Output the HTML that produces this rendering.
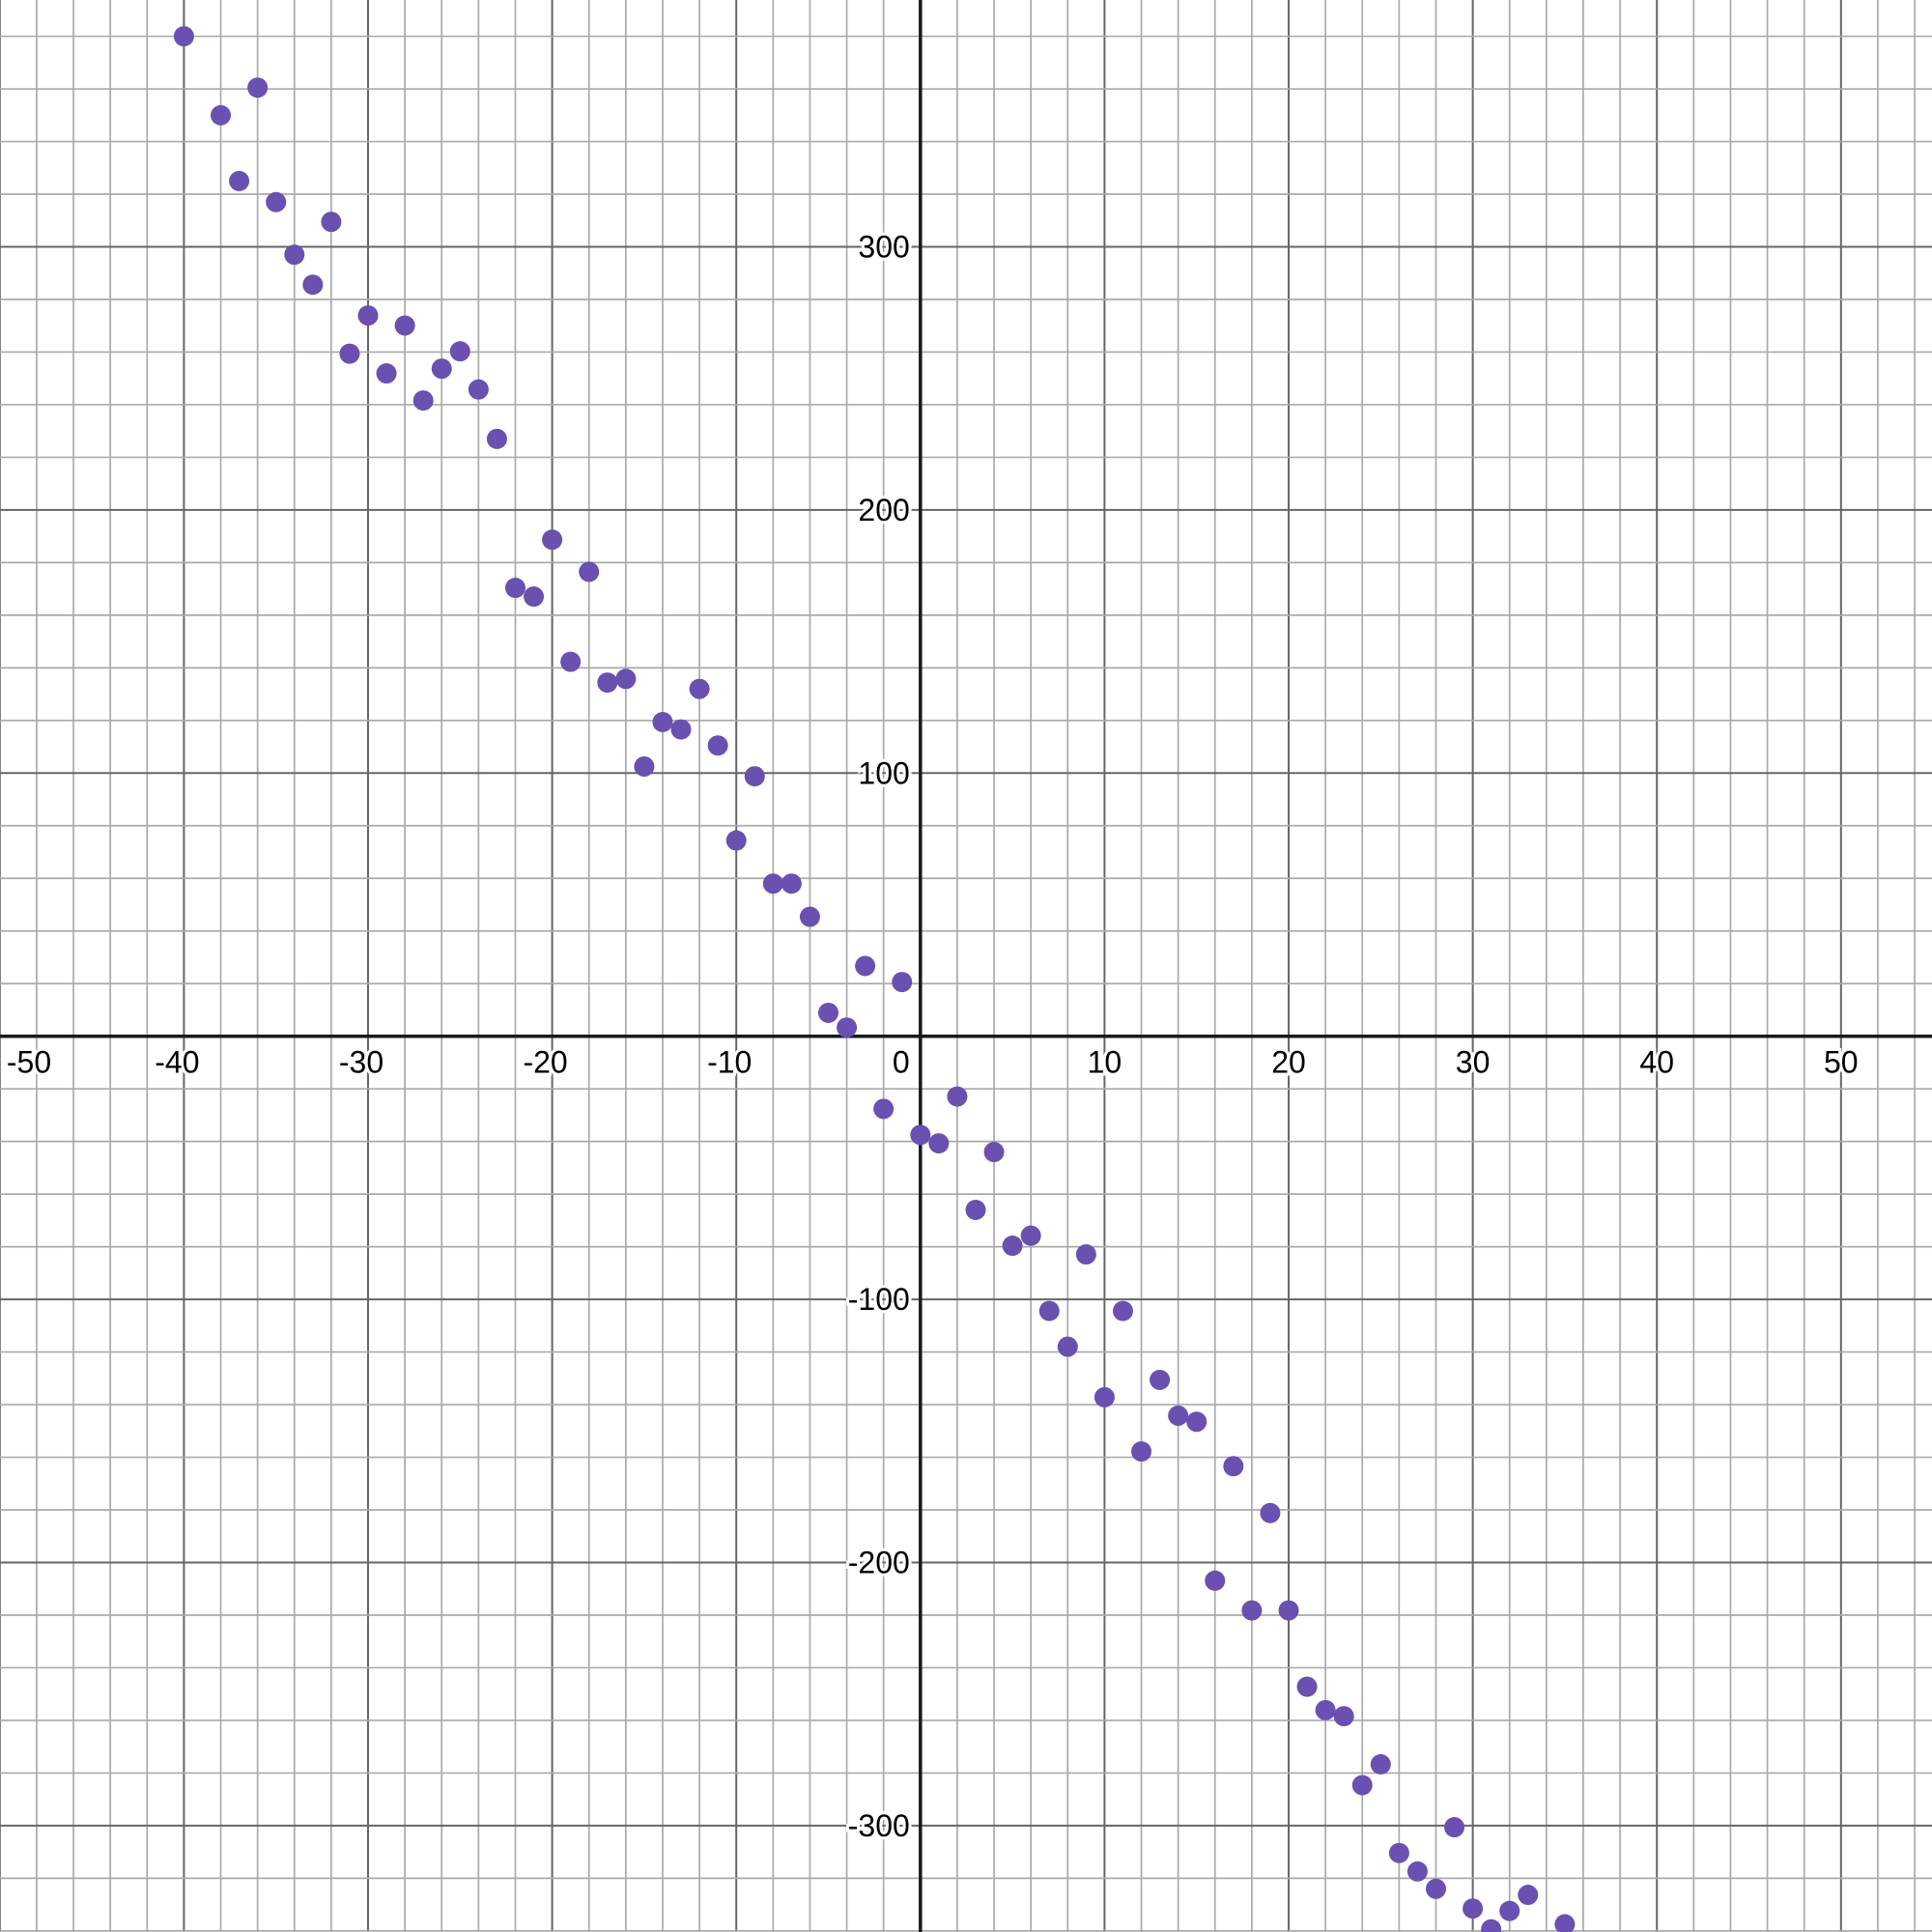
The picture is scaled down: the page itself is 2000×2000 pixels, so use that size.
<!DOCTYPE html>
<html><head><meta charset="utf-8"><style>
html,body{margin:0;padding:0;background:#fff}
svg{display:block}
text{font-family:"Liberation Sans",Arial,sans-serif;font-size:32px;fill:#000}
</style></head><body>
<svg id="chart" width="2000" height="2000" viewBox="0 0 2000 2000" xmlns="http://www.w3.org/2000/svg"></svg>
<script>
const xValues=[-40,-38,-37,-36,-35,-34,-33,-32,-31,-30,-29,-28,-27,-26,-25,-24,-23,-22,-21,-20,-19,-18,-17,-16,-15,-14,-13,-12,-11,-10,-9,-8,-7,-6,-5,-4,-3,-2,-1,0,1,2,3,4,5,6,7,8,9,10,11,12,13,14,15,16,17,18,19,20,21,22,23,24,25,26,27,28,29,30,31,32,33,35];
const yValues=[380,350,325,360.5,317,297,285.6,309.5,259.4,273.9,251.9,270.1,241.6,253.7,260.3,245.8,227,170.4,167.1,188.7,142.3,176.5,134.4,135.8,102.5,119.4,116.6,132,110.5,74.4,98.8,58,58,45.4,8.9,3.3,26.7,-27.6,20.6,-37.5,-40.7,-22.9,-66,-44,-79.6,-75.8,-104.4,-118,-82.9,-137.2,-104.4,-157.8,-130.6,-144.2,-146.5,-206.9,-163.4,-218.2,-181.2,-218.2,-247.2,-256.1,-258.4,-284.6,-276.7,-310.4,-317.4,-324,-300.6,-331.5,-339.4,-332.4,-326.3,-337.5];
const xTickLabels=[-50,-40,-30,-20,-10,0,10,20,30,40,50];
const yTickLabels=[-300,-200,-100,100,200,300];

const NS="http://www.w3.org/2000/svg";
const svg=document.getElementById('chart');
const X0=952.8,XS=19.06,Y0=1072.7,YS=2.724;
const sx=v=>X0+v*XS, sy=v=>Y0-v*YS;
function mk(t,a,p){const e=document.createElementNS(NS,t);for(const k in a)e.setAttribute(k,a[k]);(p||svg).appendChild(e);return e;}
const grid=mk('g',{});


for(let v=-50;v<=56;v+=2){const major=v%10===0;
 mk('line',{x1:sx(v),x2:sx(v),y1:0,y2:2000,stroke:major?'#666':'#aaa','stroke-width':major?2:1.7},grid);}
for(let v=-340;v<=400;v+=20){const major=v%100===0;
 mk('line',{y1:sy(v),y2:sy(v),x1:0,x2:2000,stroke:major?'#666':'#aaa','stroke-width':major?2:1.7},grid);}
const xa=mk('line',{x1:0,x2:2000,y1:sy(0),y2:sy(0),stroke:'#1a1a1a','stroke-width':3.5});


const ya=mk('line',{x1:sx(0),x2:sx(0),y1:0,y2:2000,stroke:'#1a1a1a','stroke-width':3.5});


const lab=mk('g',{});


xTickLabels.forEach(v=>{
 let cx=v===0?sx(v)-20:sx(v)-(v<0?7:0);
 if(cx<30)cx=30;
 const t=mk('text',{x:cx,y:sy(0)+38,'text-anchor':'middle',stroke:'#fff','stroke-width':6,'paint-order':'stroke'},lab);
 t.textContent=v;
 
 
});
yTickLabels.forEach(v=>{
 const t=mk('text',{x:sx(0)-11,y:sy(v)+11,'text-anchor':'end',stroke:'#fff','stroke-width':6,'paint-order':'stroke'},lab);
 t.textContent=v;
 
 
});
const pts=mk('g',{});


xValues.forEach((x,i)=>{
 const c=mk('circle',{cx:sx(x),cy:sy(yValues[i]),r:10.5,fill:'#6a50b0'},pts);
 
 
});
</script>
</body></html>
